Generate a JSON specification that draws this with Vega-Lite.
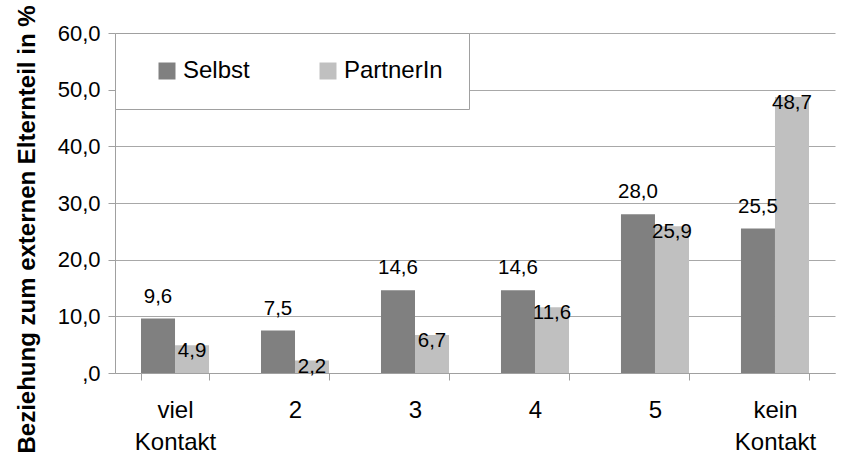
{
  "$schema": "https://vega.github.io/schema/vega-lite/v6.json",
  "width": 720,
  "height": 340,
  "autosize": {"type": "none"},
  "padding": {"left": 115, "top": 33, "right": 11, "bottom": 89},
  "background": "white",
  "config": {
    "view": {"stroke": null},
    "font": "Liberation Sans",
    "locale": {"number": {"decimal": ",", "thousands": ".", "grouping": [3], "currency": ["", " €"]}}
  },
  "data": {
    "values": [
      {"kontakt": "viel Kontakt", "gruppe": "Selbst", "prozent": 9.6},
      {"kontakt": "viel Kontakt", "gruppe": "PartnerIn", "prozent": 4.9},
      {"kontakt": "2", "gruppe": "Selbst", "prozent": 7.5},
      {"kontakt": "2", "gruppe": "PartnerIn", "prozent": 2.2},
      {"kontakt": "3", "gruppe": "Selbst", "prozent": 14.6},
      {"kontakt": "3", "gruppe": "PartnerIn", "prozent": 6.7},
      {"kontakt": "4", "gruppe": "Selbst", "prozent": 14.6},
      {"kontakt": "4", "gruppe": "PartnerIn", "prozent": 11.6},
      {"kontakt": "5", "gruppe": "Selbst", "prozent": 28.0},
      {"kontakt": "5", "gruppe": "PartnerIn", "prozent": 25.9},
      {"kontakt": "kein Kontakt", "gruppe": "Selbst", "prozent": 25.5},
      {"kontakt": "kein Kontakt", "gruppe": "PartnerIn", "prozent": 48.7}
    ]
  },
  "encoding": {
    "x": {
      "field": "kontakt",
      "type": "nominal",
      "sort": ["viel Kontakt", "2", "3", "4", "5", "kein Kontakt"],
      "scale": {"paddingInner": 0.433, "paddingOuter": 0.2167},
      "axis": {
        "title": null,
        "labelAngle": 0,
        "labelFontSize": 24,
        "labelColor": "black",
        "labelExpr": "split(datum.label, ' ')",
        "labelLineHeight": 32,
        "labelPadding": 18,
        "tickBand": "extent",
        "tickSize": 7,
        "tickColor": "#a0a0a0",
        "domainColor": "#a0a0a0",
        "grid": false
      }
    },
    "xOffset": {"field": "gruppe", "type": "nominal", "sort": ["Selbst", "PartnerIn"]},
    "y": {
      "field": "prozent",
      "type": "quantitative",
      "scale": {"domain": [0, 60], "nice": false},
      "axis": {
        "values": [0, 10, 20, 30, 40, 50, 60],
        "labelExpr": "datum.value == 0 ? ',0' : format(datum.value, '.1f')",
        "labelFontSize": 22,
        "labelColor": "black",
        "labelPadding": 8,
        "tickSize": 7,
        "tickColor": "#a0a0a0",
        "domainColor": "#a0a0a0",
        "grid": true,
        "gridColor": "#a8a8a8",
        "title": "Beziehung zum externen Elternteil in %",
        "titleFont": "Liberation Sans",
        "titleFontSize": 24,
        "titleFontWeight": "bold",
        "titleColor": "black",
        "titleAngle": -90,
        "titleX": -81,
        "titleY": 196,
        "titleAlign": "center",
        "titleBaseline": "alphabetic"
      }
    }
  },
  "layer": [
    {
      "mark": {"type": "bar"},
      "encoding": {
        "color": {
          "field": "gruppe",
          "type": "nominal",
          "sort": ["Selbst", "PartnerIn"],
          "scale": {"domain": ["Selbst", "PartnerIn"], "range": ["#808080", "#c0c0c0"]},
          "legend": {
            "title": null,
            "orient": "none",
            "legendX": 0,
            "legendY": 0,
            "direction": "horizontal",
            "fillColor": "white",
            "strokeColor": "#a0a0a0",
            "padding": 26,
            "symbolType": "square",
            "symbolSize": 289,
            "symbolStrokeWidth": 0,
            "symbolOffset": 14,
            "labelFontSize": 24,
            "labelColor": "black",
            "labelOffset": 4,
            "columnPadding": 52
          }
        }
      }
    },
    {
      "transform": [{"filter": "datum.gruppe == 'Selbst'"}],
      "mark": {"type": "text", "baseline": "middle", "dy": -22, "fontSize": 20.5, "color": "black"},
      "encoding": {"text": {"field": "prozent", "type": "quantitative", "format": ".1f"}}
    },
    {
      "transform": [{"filter": "datum.gruppe == 'PartnerIn'"}],
      "mark": {"type": "text", "baseline": "middle", "dy": 6, "fontSize": 20.5, "color": "black"},
      "encoding": {"text": {"field": "prozent", "type": "quantitative", "format": ".1f"}}
    }
  ]
}
